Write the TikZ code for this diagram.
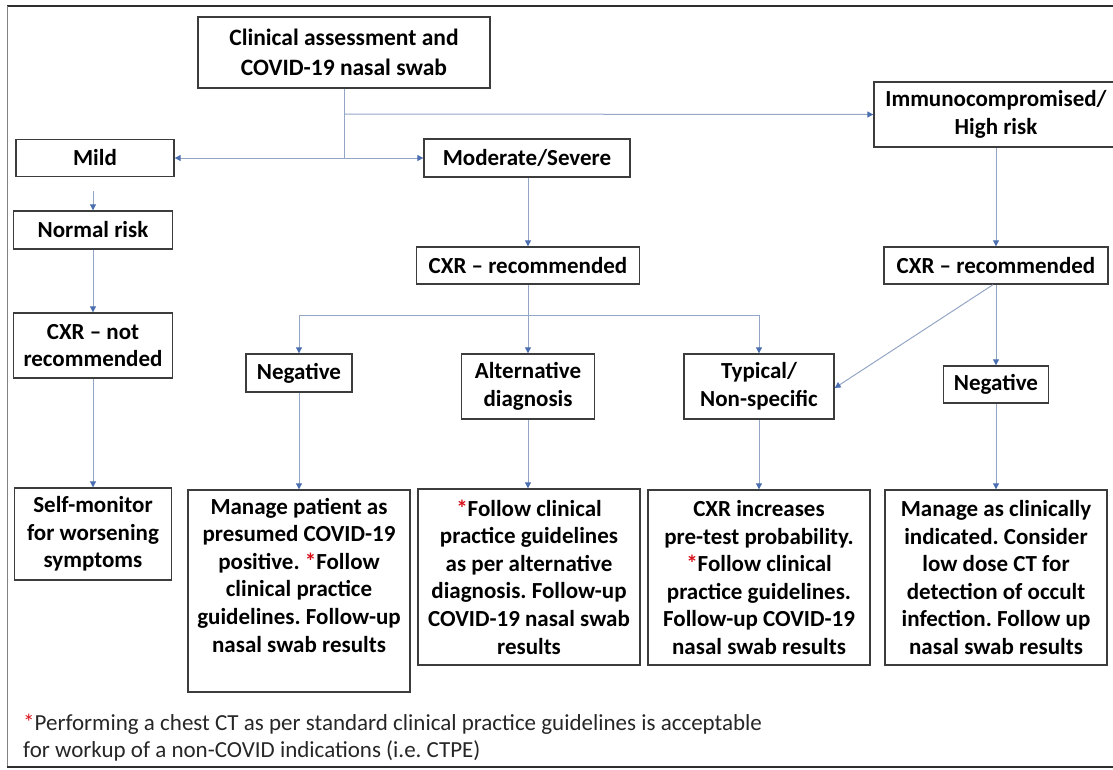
\documentclass[tikz,border=0pt]{standalone}
\usepackage{fontspec}
\setmainfont{Carlito}
\usetikzlibrary{arrows.meta}
\definecolor{boxc}{HTML}{3C3C3C}
\definecolor{linkc}{HTML}{94A6C6}
\definecolor{tipc}{HTML}{4A6EB0}
\definecolor{starc}{HTML}{D8101A}
\definecolor{framec}{HTML}{2E2E2E}
\newcommand{\rs}{\textcolor{starc}{*}}
\frenchspacing
\tikzset{
  fbox/.style={draw=boxc, line width=1.4pt, align=center, inner sep=0pt,
    font=\bfseries\fontsize{23}{27.6}\selectfont},
  link/.style={draw=linkc, line width=1pt},
  arr/.style={link, -{Triangle[length=6pt,width=6pt,color=tipc]}},
}
\begin{document}
\begin{tikzpicture}[x=1pt,y=-1pt]
\useasboundingbox (0,0) rectangle (1113,769);
\clip (0,0) rectangle (1113,769);
% frame
\draw[framec, line width=2pt] (1113,6) -- (7,6);
\draw[framec!60, line width=1pt] (7,6) -- (7,767);
\draw[framec, line width=2pt] (7,767) -- (1113,767);

% top row
\node[fbox, minimum width=292pt, minimum height=71pt, font=\bfseries\fontsize{23.5}{30}\selectfont] (top) at (344,52.5) {Clinical assessment and\\COVID-19 nasal swab};
\node[fbox, minimum width=158pt, minimum height=37pt] (mild) at (95,158) {Mild};
\node[fbox, minimum width=206pt, minimum height=38pt] (mod) at (527,158) {Moderate/Severe};
\node[fbox, minimum width=244pt, minimum height=65pt] (imm) at (996,114.5) {Immunocompromised/\\High risk};

% second rows
\node[fbox, minimum width=159pt, minimum height=38pt] (normal) at (93,230) {Normal risk};
\node[fbox, minimum width=159pt, minimum height=65pt] (cxrnot) at (93,345.5) {CXR -- not\\recommended};
\node[fbox, minimum width=223pt, minimum height=37pt] (cxrmid) at (528,265.5) {CXR -- recommended};
\node[fbox, minimum width=224pt, minimum height=37pt] (cxrright) at (996,265.5) {CXR -- recommended};

% third row
\node[fbox, minimum width=106pt, minimum height=38pt] (negL) at (299,373) {Negative};
\node[fbox, minimum width=133pt, minimum height=65pt] (alt) at (528,386.5) {Alternative\\diagnosis};
\node[fbox, minimum width=150pt, minimum height=65pt] (typ) at (759,386.5) {Typical/\\Non-specific};
\node[fbox, minimum width=105pt, minimum height=37pt] (negR) at (996,384.5) {Negative};

% bottom row
\node[fbox, minimum width=157pt, minimum height=92pt] (self) at (93,534) {Self-monitor\\for worsening\\symptoms};
\node[fbox, minimum width=222pt, minimum height=202pt] (man) at (299,591)
  {\parbox[c][186pt][t]{220pt}{\centering Manage patient as\\presumed COVID-19\\positive. \rs Follow\\clinical practice\\guidelines. Follow-up\\nasal swab results}};
\node[fbox, minimum width=222pt, minimum height=176pt] (fol) at (529,577) {\rs Follow clinical\\practice guidelines\\as per alternative\\diagnosis. Follow-up\\COVID-19 nasal swab\\results};
\node[fbox, minimum width=222pt, minimum height=175pt] (inc) at (759,577.5) {CXR increases\\pre-test probability.\\\rs Follow clinical\\practice guidelines.\\Follow-up COVID-19\\nasal swab results};
\node[fbox, minimum width=222pt, minimum height=175pt] (man2) at (996,577.5) {Manage as clinically\\indicated. Consider\\low dose CT for\\detection of occult\\infection. Follow up\\nasal swab results};

% footer
\node[anchor=north west, align=left, inner sep=0pt, text=black!85,
  font=\fontsize{23}{27}\selectfont] (foot) at (23,713.5)
  {\rs Performing a chest CT as per standard clinical practice guidelines is acceptable\\for workup of a non-COVID indications (i.e. CTPE)};

% connectors
\coordinate (j0) at (344,114);
\coordinate (j1) at (344,158);
\draw[link] (top.south) -- (j1);
\draw[arr] (j1) -- (mild.east);
\draw[arr] (j1) -- (mod.west);
\draw[arr] (j0) -- (imm.west);

\draw[arr, shorten <=14pt] (mild.south -| normal.north) -- (normal.north);
\draw[arr] (normal.south) -- (cxrnot.north);
\draw[arr] (cxrnot.south) -- (self.north -| cxrnot.south);

\draw[arr] (mod.south -| cxrmid.north) -- (cxrmid.north);
\draw[arr] (cxrmid.south) -- (alt.north);
\coordinate (bL) at (299,315);
\coordinate (bR) at (759,315);
\draw[link] (bL) -- (bR);
\draw[arr] (bL) -- (negL.north);
\draw[arr] (bR) -- (typ.north);

\draw[arr] (negL.south) -- (man.north);
\draw[arr] (alt.south) -- (fol.north -| alt.south);
\draw[arr] (typ.south) -- (inc.north);

\draw[arr] (imm.south) -- (cxrright.north);
\draw[arr] (cxrright.south) -- (negR.north -| cxrright.south);
\draw[arr] ([xshift=-3pt]cxrright.south) -- ([yshift=-1.5pt]typ.east);
\draw[arr] (negR.south -| man2.north) -- (man2.north);
\end{tikzpicture}
\end{document}
